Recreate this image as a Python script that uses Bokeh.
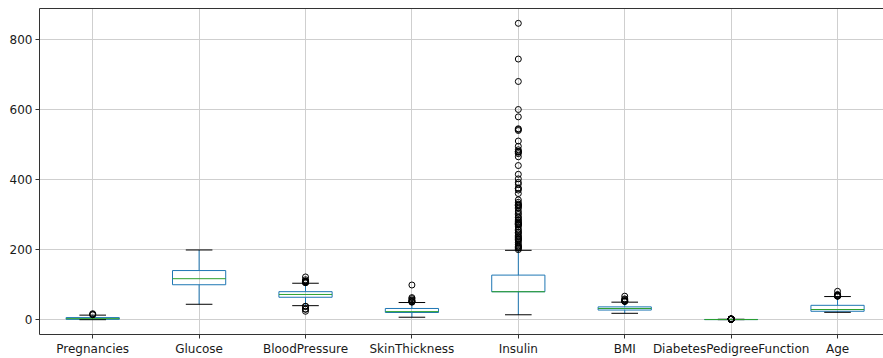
from bokeh.plotting import figure
from bokeh.models import Range1d, FixedTicker, LinearAxis
from bokeh.embed import file_html
from bokeh.resources import INLINE

categories = ["Pregnancies", "Glucose", "BloodPressure", "SkinThickness",
              "Insulin", "BMI", "DiabetesPedigreeFunction", "Age"]
q1 = [1.0, 99.75, 64.0, 20.54, 79.8, 27.5, 0.244, 24.0]
median = [3.0, 117.0, 72.0, 23.0, 79.8, 32.0, 0.3725, 29.0]
q3 = [6.0, 140.25, 80.0, 32.0, 127.25, 36.6, 0.626, 41.0]
whisker_low = [0.0, 44.0, 40.0, 7.0, 14.0, 18.2, 0.078, 21.0]
whisker_high = [13.0, 199.0, 104.0, 49.0, 198.0, 50.0, 1.191, 66.0]
outliers = [
    [14, 15, 17],
    [],
    [24, 30, 30, 38, 38, 106, 106, 106, 108, 108, 110, 110, 110, 114, 122],
    [50, 51, 52, 54, 56, 60, 63, 99],
    [200, 204, 205, 207, 210, 210, 215, 220, 225, 228, 230, 231, 235, 237, 240,
     245, 249, 250, 255, 258, 265, 270, 271, 272, 274, 275, 277, 280, 284, 285,
     291, 293, 300, 304, 310, 318, 321, 325, 326, 328, 330, 335, 342, 360, 370,
     375, 375, 387, 392, 402, 415, 440, 465, 474, 478, 480, 480, 485, 495, 510,
     540, 543, 545, 579, 600, 680, 744, 846],
    [52.3, 52.3, 52.9, 53.2, 55.0, 57.3, 59.4, 67.1],
    [1.213, 1.222, 1.224, 1.251, 1.258, 1.268, 1.282, 1.292, 1.318, 1.321, 1.353,
     1.39, 1.394, 1.4, 1.441, 1.461, 1.476, 1.6, 1.698, 1.699, 1.731, 1.781,
     1.893, 2.137, 2.288, 2.329, 2.42],
    [67, 67, 68, 69, 69, 70, 72, 81],
]

pos = list(range(1, len(categories) + 1))
box_w = 0.5
cap_w = 0.25

BLUE = "#1f77b4"
GREEN = "#2ca02c"

p = figure(frame_width=844, frame_height=326, output_backend="svg",
           toolbar_location=None,
           x_range=Range1d(0.5, 8.432), y_range=Range1d(-42.3, 888.3),
           min_border_left=39, min_border_right=0, min_border_top=8,
           min_border_bottom=0)

# boxes
p.quad(left=[x - box_w / 2 for x in pos], right=[x + box_w / 2 for x in pos],
       bottom=q1, top=q3, fill_color=None, line_color=BLUE, line_width=1)
# whiskers
p.segment(x0=pos, x1=pos, y0=q3, y1=whisker_high, line_color=BLUE, line_width=1)
p.segment(x0=pos, x1=pos, y0=q1, y1=whisker_low, line_color=BLUE, line_width=1)
# caps
p.segment(x0=[x - cap_w / 2 for x in pos], x1=[x + cap_w / 2 for x in pos],
          y0=whisker_high, y1=whisker_high, line_color="black", line_width=1)
p.segment(x0=[x - cap_w / 2 for x in pos], x1=[x + cap_w / 2 for x in pos],
          y0=whisker_low, y1=whisker_low, line_color="black", line_width=1)
# medians
p.segment(x0=[x - box_w / 2 for x in pos], x1=[x + box_w / 2 for x in pos],
          y0=median, y1=median, line_color=GREEN, line_width=1)
# outliers
ox, oy = [], []
for x, vals in zip(pos, outliers):
    for v in vals:
        ox.append(x)
        oy.append(v)
p.scatter(ox, oy, marker="circle", size=6, fill_color=None,
          line_color="black", line_width=1)

# axes
p.xaxis.ticker = FixedTicker(ticks=pos)
p.xaxis.major_label_overrides = {x: c for x, c in zip(pos, categories)}
p.yaxis.ticker = FixedTicker(ticks=[0, 200, 400, 600, 800])
for ax in (p.xaxis[0], p.yaxis[0]):
    ax.major_label_text_font = "DejaVu Sans"
    ax.major_label_text_font_size = "12px"
    ax.major_label_text_color = "#1a1a1a"
    ax.major_tick_out = 4
    ax.major_tick_in = 0
    ax.minor_tick_out = 0
    ax.minor_tick_in = 0
    ax.axis_line_color = "#333333"
    ax.major_tick_line_color = "#333333"
    ax.major_label_standoff = 3

top_axis = LinearAxis(ticker=FixedTicker(ticks=[]), major_label_text_font_size="0px",
                      major_tick_out=0, major_tick_in=0, minor_tick_out=0,
                      minor_tick_in=0, major_label_standoff=0,
                      axis_line_color="#333333")
p.add_layout(top_axis, "above")

p.outline_line_color = None
p.xgrid.grid_line_color = "#cfcfcf"
p.ygrid.grid_line_color = "#cfcfcf"
p.xgrid.grid_line_width = 1
p.ygrid.grid_line_width = 1
p.background_fill_color = "white"
p.border_fill_color = "white"

open("out.html", "w").write(file_html(p, INLINE))
